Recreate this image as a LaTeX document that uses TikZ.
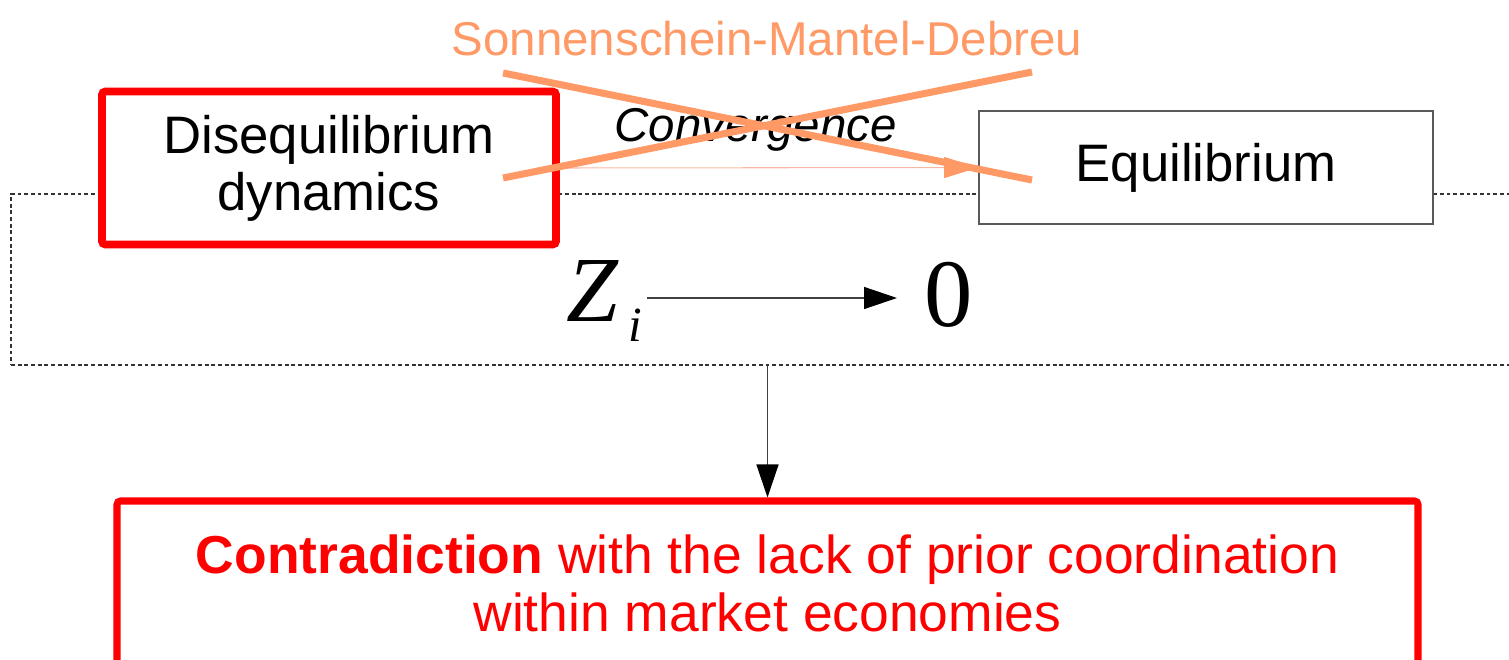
\documentclass[tikz,border=0pt]{standalone}
\usepackage{fontspec}
\setmainfont{Liberation Sans}
\newfontfamily\mathserif{Liberation Serif}
\usepackage{xcolor}
\usetikzlibrary{positioning,arrows.meta,calc}
\definecolor{smdorange}{HTML}{FF9966}
\definecolor{convline}{HTML}{F7B8A2}

\begin{document}
\begin{tikzpicture}[
    every node/.style={font=\fontsize{30}{32.5}\selectfont},
    redbox/.style={
        rectangle,
        rounded corners=2pt,
        draw=red,
        line width=4.5pt,
        fill=white,
        align=center
    },
    plainbox/.style={
        rectangle,
        draw=black!65,
        line width=0.9pt,
        fill=white,
        align=center
    },
    zone/.style={
        rectangle,
        draw=black!80,
        line width=0.6pt,
        dash pattern=on 2.2pt off 1.6pt
    },
    arrow/.style={-{Triangle[length=0.66cm,width=0.44cm,color=black]}, line width=0.8pt, draw=black!75},
    convarrow/.style={-{Triangle[length=0.68cm,width=0.42cm,color=smdorange]}, line width=0.6pt, draw=convline},
    cross/.style={draw=smdorange, line width=4pt}
]
\useasboundingbox (0,0) rectangle (30.18,-13.2);

% Dashed zone behind the boxes
\node[zone, minimum width=30.38cm, minimum height=3.42cm] (zone) at (15.41,-5.59) {};

% Nodes with fixed coordinates
\node[redbox, minimum width=9.08cm, minimum height=3.06cm] (diseq) at (6.58,-3.36) {Disequilibrium\\dynamics};
\node[plainbox, minimum width=9.08cm, minimum height=2.26cm] (equil) at (24.12,-3.35) {Equilibrium};

\node[inner sep=0, anchor=base west] (zi) at (11.32,-6.44)
    {{\mathserif\itshape\fontsize{53}{53}\selectfont Z}\kern0.2cm\raisebox{-0.4cm}{\mathserif\itshape\fontsize{28}{28}\selectfont i}};
\node[inner sep=0, anchor=base west] (zero) at (18.48,-6.54) {\mathserif\fontsize{55}{55}\selectfont 0};

\node[redbox, line width=4pt, text=red, minimum width=26.02cm, minimum height=3.28cm, font=\fontsize{30.4}{33}\selectfont] (contra) at (15.35,-11.66)
    {\textbf{Contradiction} with the lack of prior coordination\\within market economies};

% Arrows
\draw[convarrow] (diseq.east) -- node[midway, xshift=-0.27cm, yshift=0.75cm, font=\fontsize{27}{30}\selectfont\itshape] (conv) {Convergence} (equil.west);
\draw[arrow] ([xshift=0.1cm, yshift=0.07cm]zi.east) -- ([xshift=-0.54cm, yshift=0.07cm]zi.east -| zero.west);
\draw[arrow] (zone.south -| contra.north) -- (contra.north);

% Crossed out
\draw[cross] (10.06,-1.46) -- (20.64,-3.6);
\draw[cross] (10.06,-3.56) -- (20.64,-1.44);
\node[text=smdorange, font=\fontsize{27}{30}\selectfont] (smd) at (15.34,-0.78) {Sonnenschein-Mantel-Debreu};

\end{tikzpicture}
\end{document}
